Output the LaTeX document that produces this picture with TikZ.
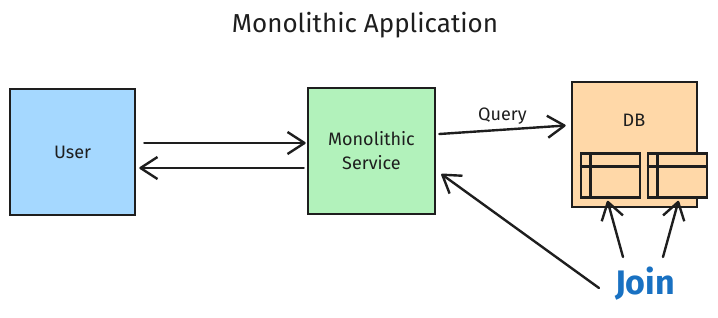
\documentclass[tikz,border=0pt]{standalone}
\usepackage{fontspec}
\setmainfont{Fira Sans}
\usetikzlibrary{arrows.meta, positioning}
\definecolor{cink}{HTML}{1E1E1E}
\definecolor{cuser}{HTML}{A5D8FF}
\definecolor{csvc}{HTML}{B2F2BB}
\definecolor{cdb}{HTML}{FFD8A8}
\definecolor{cjoin}{HTML}{1971C2}
\tikzset{
  every picture/.style={line width=2.6pt, x=1pt, y=-1pt},
  box/.style={draw=cink, fill=#1, align=center, inner sep=0pt, minimum width=125pt, minimum height=126pt, font=\fontsize{18}{24}\selectfont, text=cink},
  box/.default=white,
  tbl/.style={draw=cink, fill=cdb, inner sep=0pt, minimum width=59pt, minimum height=44pt},
  arrow/.style={-{Straight Barb[length=17pt, width=22pt, line join=round]}, draw=cink, line width=2.4pt, line cap=round},
  title/.style={font=\fontsize{26}{30}\selectfont, text=cink},
  note/.style={font=\fontsize{18}{22}\selectfont, text=cink},
}

\begin{document}
\begin{tikzpicture}
  \useasboundingbox (0,0) rectangle (718,317);
  \node[title] (t) at (365,25) {Monolithic Application};
  \node[box=cuser] (u) at (72.5,152) {User};
  \node[box=csvc, minimum width=127pt] (svc) at (371.5,151) {Monolithic\\Service};
  \node[box=cdb, minimum height=125pt] (db) at (634.5,144.5) {};
  \node[font=\fontsize{18}{22}\selectfont, text=cink] (dbl) at (634,120) {DB};
  % two tables inside the store
  \node[tbl] (ta) at (610.5,175.5) {};
  \node[tbl] (tb) at (677.5,175.5) {};
  \draw[cink] ([xshift=11pt]ta.north west) -- ([xshift=11pt]ta.south west);
  \draw[cink] ([yshift=-14pt]ta.north west) -- ([yshift=-14pt]ta.north east);
  \draw[cink] ([xshift=11pt]tb.north west) -- ([xshift=11pt]tb.south west);
  \draw[cink] ([yshift=-14pt]tb.north west) -- ([yshift=-14pt]tb.north east);
  \node[font=\fontsize{34}{38}\selectfont\bfseries, text=cjoin] (jn) at (645,284) {Join};
  % connectors
  \draw[arrow] ([shift={(8pt,9pt)}]u.east) -- ([shift={(-1pt,8pt)}]svc.west);
  \draw[arrow] ([shift={(-3pt,-17pt)}]svc.west) -- ([shift={(3pt,-16pt)}]u.east);
  \draw[arrow] ([shift={(3pt,17pt)}]svc.east) -- node[above=1pt, note, pos=0.5] (ql) {Query} ([shift={(-5pt,19pt)}]db.west);
  \draw[arrow] ([shift={(-46pt,-4pt)}]jn.center) -- ([shift={(5pt,-23pt)}]svc.east);
  \draw[arrow] ([shift={(-22pt,27pt)}]jn.center) -- ([shift={(-3pt,-2pt)}]ta.south);
  \draw[arrow] ([shift={(18pt,27pt)}]jn.center) -- ([shift={(1pt,-2pt)}]tb.south);
\end{tikzpicture}
\end{document}
